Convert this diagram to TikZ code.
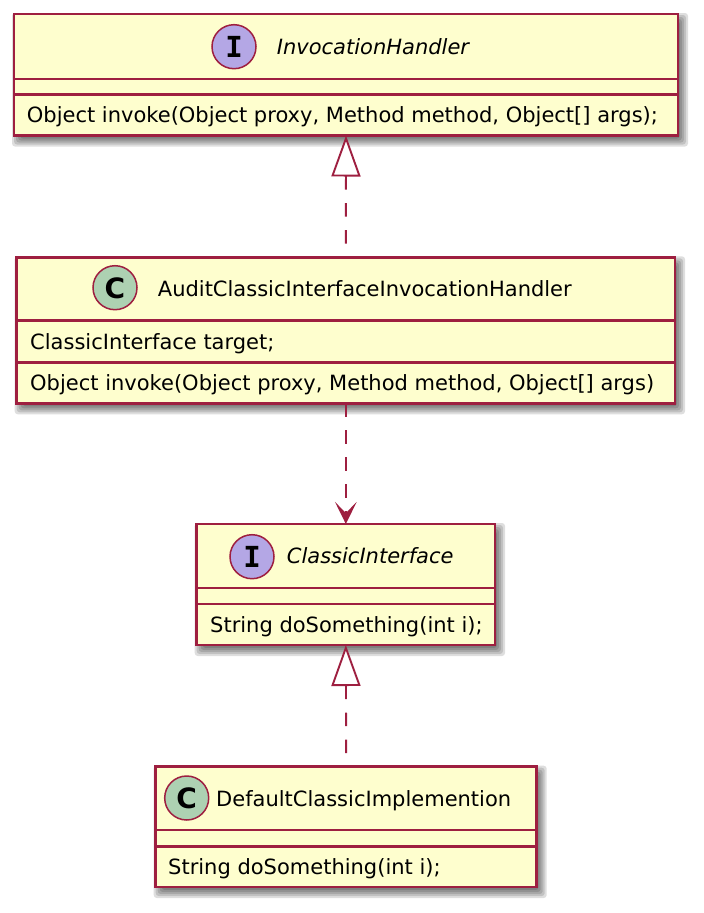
\documentclass[tikz,border=0pt]{standalone}
\usepackage{fontspec}
\setmainfont{DejaVu Sans}
\newfontfamily\lettermono{DejaVu Sans Mono}
\usetikzlibrary{arrows.meta,backgrounds,calc}
\definecolor{umlred}{HTML}{9E1F40}
\definecolor{umlfill}{HTML}{FEFECE}
\definecolor{ifacecirc}{HTML}{B4A7E5}
\definecolor{classcirc}{HTML}{ADD1B2}
\pgfdeclarelayer{shadowlayer}
\pgfsetlayers{shadowlayer,main}
\begin{document}
\begin{tikzpicture}[x=1pt,y=-1pt,
  umlbox/.style={draw=umlred, fill=umlfill, line width=2.8pt, rectangle, inner sep=0pt, outer sep=0pt, anchor=north west},
  sepline/.style={draw=umlred, line width=2.8pt},
  txt/.style={anchor=base west, inner sep=0pt, font=\fontsize{21}{25}\selectfont},
  ititle/.style={anchor=base west, inner sep=0pt, font=\fontsize{21}{25}\selectfont\itshape},
  badge/.style={circle, draw=umlred, line width=1.5pt, minimum size=44pt, inner sep=0pt},
  ibadge/.style={anchor=base, inner sep=0pt, font=\lettermono\bfseries\fontsize{29}{29}\selectfont},
  cbadge/.style={anchor=base, inner sep=0pt, font=\bfseries\fontsize{28}{28}\selectfont},
  conn/.style={draw=umlred, line width=1.9pt, dash pattern=on 13.5pt off 13.5pt},
  realize/.style={{Triangle[open, length=41pt, width=29pt, fill=white]}-},
  depend/.style={-{Stealth[length=22pt, width=21.6pt, inset=11pt]}},
  shadowpiece/.style={fill=black, opacity=0.13, rounded corners=3pt},
]
\useasboundingbox (0,0) rectangle (704,913);

% boxes
\node[umlbox, minimum width=664pt, minimum height=121.5pt] (b1) at (14,14) {};
\node[umlbox, minimum width=658.3pt, minimum height=146pt] (b2) at (16.7,257.3) {};
\node[umlbox, minimum width=298.3pt, minimum height=121pt] (b3) at (196.7,524) {};
\node[umlbox, minimum width=381pt, minimum height=120.3pt] (b4) at (155.7,766.7) {};

% separators
\draw[sepline] ($(b1.north west)+(0,65)$) -- ($(b1.north east)+(0,65)$);
\draw[sepline] ($(b1.north west)+(0,80.3)$) -- ($(b1.north east)+(0,80.3)$);
\draw[sepline] ($(b2.north west)+(0,63.4)$) -- ($(b2.north east)+(0,63.4)$);
\draw[sepline] ($(b2.north west)+(0,105)$) -- ($(b2.north east)+(0,105)$);
\draw[sepline] ($(b3.north west)+(0,64)$) -- ($(b3.north east)+(0,64)$);
\draw[sepline] ($(b3.north west)+(0,80)$) -- ($(b3.north east)+(0,80)$);
\draw[sepline] ($(b4.north west)+(0,63.3)$) -- ($(b4.north east)+(0,63.3)$);
\draw[sepline] ($(b4.north west)+(0,80)$) -- ($(b4.north east)+(0,80)$);

% badges
\node[badge, fill=ifacecirc] (c1) at (234,46.7) {};
\node[ibadge] (l1) at (234,57.2) {I};
\node[badge, fill=classcirc] (c2) at (115,287.7) {};
\node[cbadge] (l2) at (115,298.1) {C};
\node[badge, fill=ifacecirc] (c3) at (252,556.7) {};
\node[ibadge] (l3) at (252,567.2) {I};
\node[badge, fill=classcirc] (c4) at (186.7,798) {};
\node[cbadge] (l4) at (186.7,808.4) {C};

% texts
\node[ititle] (t1) at (276.7,54) {InvocationHandler};
\node[txt] (m1) at (26.7,122.6) {Object invoke(Object proxy, Method method, Object[] args);};
\node[txt] (t2) at (157.7,296.7) {AuditClassicInterfaceInvocationHandler};
\node[txt] (f2) at (30,349) {ClassicInterface target;};
\node[txt] (m2) at (30,390.4) {Object invoke(Object proxy, Method method, Object[] args)};
\node[ititle] (t3) at (286.7,563.6) {ClassicInterface};
\node[txt] (m3) at (210,632) {String doSomething(int i);};
\node[txt] (t4) at (216,806) {DefaultClassicImplemention};
\node[txt] (m4) at (168,874.4) {String doSomething(int i);};

% connectors
\draw[conn, realize] (b1.south) -- (b2.north);
\draw[conn, depend] (b2.south) -- (b3.north);
\draw[conn, realize] (b3.south) -- (b4.north);

% shadows
\begin{pgfonlayer}{shadowlayer}
\foreach \b in {b1,b2,b3,b4}{
  \foreach \g in {-4,-2,0,2,4,6}{
    \fill[shadowpiece]
      ($(\b.north west)+({4-(\g)},{5-(\g)})$) rectangle ($(\b.south east)+({4+(\g)},{5+(\g)})$);
  }
}
\end{pgfonlayer}
\end{tikzpicture}
\end{document}
